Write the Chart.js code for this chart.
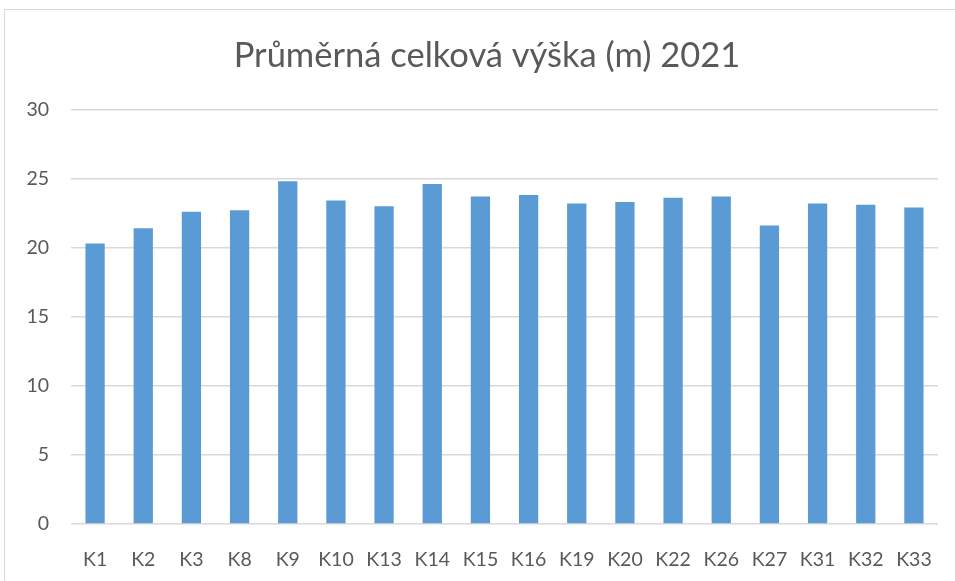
<!DOCTYPE html>
<html>
<head>
<meta charset="utf-8">
<script src="https://cdn.jsdelivr.net/npm/chart.js@4/dist/chart.umd.min.js"></script>
<style>
  body { margin: 0; background: #fff; }
  #frame { position: absolute; left: 4px; top: 9px; width: 960px; height: 600px; border: 1px solid #d9d9d9; }
  #wrap { position: absolute; left: 0; top: 0; width: 955px; height: 581px; }
</style>
</head>
<body>
<div id="frame"></div>
<div id="wrap"><canvas id="chart"></canvas></div>
<script>
// plots
const labels = ["K1", "K2", "K3", "K8", "K9", "K10", "K13", "K14", "K15", "K16", "K19", "K20", "K22", "K26", "K27", "K31", "K32", "K33"];
const heights = [20.3, 21.4, 22.6, 22.7, 24.8, 23.4, 23.0, 24.6, 23.7, 23.8, 23.2, 23.3, 23.6, 23.7, 21.6, 23.2, 23.1, 22.9];
const yTicks = [0, 5, 10, 15, 20, 25, 30];

const fontFamily = "Lato, 'Open Sans', sans-serif";
const grey = "#595959";

// centre the title on the frame rather than on the padded chart
const shiftTitle = {
  id: 'shiftTitle',
  afterLayout(chart) {
    if (chart.titleBlock) {
      chart.titleBlock.left = 36;
      chart.titleBlock.right = 938;
    }
  }
};

new Chart(document.getElementById('chart'), {
  type: 'bar',
  data: {
    labels: labels,
    datasets: [{
      label: 'Průměrná celková výška (m)',
      data: heights,
      backgroundColor: '#5b9bd5',
      barPercentage: 0.8,
      categoryPercentage: 0.5
    }]
  },
  options: {
    responsive: true,
    maintainAspectRatio: false,
    animation: false,
    layout: { padding: { left: 0, right: 17, top: 0, bottom: 0 } },
    plugins: {
      legend: { display: false },
      tooltip: { enabled: false },
      title: {
        display: true,
        text: 'Průměrná celková výška (m) 2021',
        color: grey,
        font: { family: fontFamily, size: 34.5, weight: 'normal', lineHeight: 1.2 },
        padding: { top: 35, bottom: 33 }
      }
    },
    scales: {
      x: {
        grid: { display: false },
        border: { display: false },
        ticks: { color: grey, font: { family: fontFamily, size: 19.5 }, padding: 16 },
        afterFit: (axis) => { axis.height = 57; }
      },
      y: {
        min: 0,
        max: 30,
        afterBuildTicks: (axis) => { axis.ticks = yTicks.map(v => ({ value: v })); },
        grid: { color: '#d9d9d9', lineWidth: 1.5, drawTicks: false },
        border: { display: false },
        ticks: { color: grey, font: { family: fontFamily, size: 19.5 }, padding: 22 },
        afterFit: (axis) => { axis.width = 71; }
      }
    }
  },
  plugins: [shiftTitle]
});
</script>
</body>
</html>
